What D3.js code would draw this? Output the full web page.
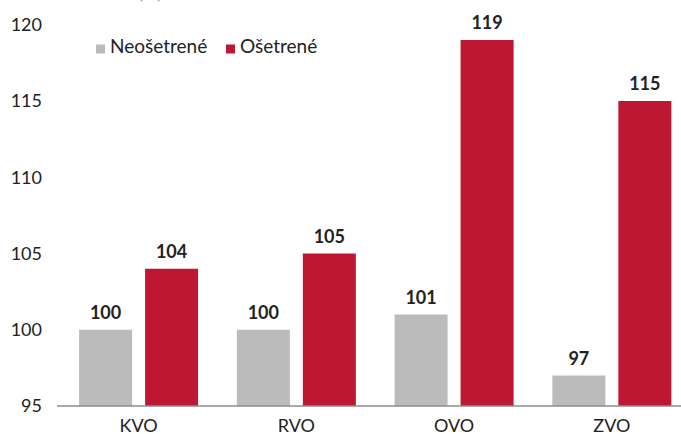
<!DOCTYPE html>
<html>
<head>
<meta charset="utf-8">
<script src="https://cdn.jsdelivr.net/npm/d3@7"></script>
<style>
  body { margin: 0; background: #fff; }
  text { font-family: Lato, "Open Sans", sans-serif; fill: #222; }
</style>
</head>
<body>
<svg></svg>
<script>
const width = 681;
const height = 434;

// data
const categories = ["KVO", "RVO", "OVO", "ZVO"];
const seriesNames = ["Neošetrené", "Ošetrené"];
const untreated = [100, 100, 101, 97];
const treated = [104, 105, 119, 115];
const yTicks = [95, 100, 105, 110, 115, 120];
const colors = ["#bbbbbb", "#be1733"];

const rows = categories.map((c, i) => ({ cat: c, values: [untreated[i], treated[i]] }));

let svg = d3.select("svg")
    .attr("width", width)
    .attr("height", height)

let x0 = d3.scaleBand()
    .domain(categories)
    .range([59.7, 690.7])
let x1 = d3.scaleBand()
    .domain([0, 1])
    .range([19.4, 138.4])
    .paddingInner(13 / 66)
let y = d3.scaleLinear()
    .domain([95, 120])
    .range([406, 24.75])

// cut-off unit label at very top
svg.append("text")
    .attr("x", 150)
    .attr("y", -1)
    .style("text-anchor", "middle")
    .style("font-size", "18px")
    .style("fill", "#999")
    .text("(%)")

// y axis labels (no line)
let yAxis = svg.append("g")
    .attr("transform", "translate(42, 0)")
    .call(d3.axisLeft(y).tickValues(yTicks).tickSize(0).tickPadding(0))
yAxis.select(".domain").remove()
yAxis.selectAll("text")
    .style("font-size", "18px")
    .style("font-family", "Lato, sans-serif")
    .attr("fill", "#222")

let groups = svg.selectAll(".grp")
    .data(rows)
    .enter()
    .append("g")
    .attr("class", "grp")
    .attr("transform", d => `translate(${x0(d.cat)}, 0)`)

groups.selectAll("rect")
    .data(d => d.values.map((v, k) => ({ k, v })))
    .enter()
    .append("rect")
    .attr("x", d => x1(d.k))
    .attr("y", d => y(d.v))
    .attr("width", x1.bandwidth())
    .attr("height", d => y(95) - y(d.v))
    .attr("fill", d => colors[d.k])

groups.selectAll(".val")
    .data(d => d.values.map((v, k) => ({ k, v })))
    .enter()
    .append("text")
    .attr("class", "val")
    .attr("x", d => x1(d.k) + x1.bandwidth() / 2)
    .attr("y", d => y(d.v) - 11)
    .style("text-anchor", "middle")
    .style("font-size", "18px")
    .style("font-weight", "bold")
    .text(d => d.v)

// x axis
let xAxis = svg.append("g")
    .attr("transform", `translate(0, ${y(95)})`)
    .call(d3.axisBottom(x0).tickSize(0).tickPadding(0))
xAxis.select(".domain").remove()
xAxis.append("line")
    .attr("x1", 57)
    .attr("x2", width)
    .attr("stroke", "#8c8c8c")
    .attr("stroke-width", 1.5)
xAxis.selectAll(".tick text")
    .attr("y", 26)
    .attr("dy", 0)
    .style("font-size", "18px")
    .style("font-family", "Lato, sans-serif")
    .attr("fill", "#222")

// legend
let legend = svg.append("g")
let lx = [96, 226];
seriesNames.forEach((name, i) => {
    legend.append("rect")
        .attr("x", lx[i])
        .attr("y", 44.5)
        .attr("width", 9)
        .attr("height", 9)
        .attr("fill", colors[i])
    legend.append("text")
        .attr("x", lx[i] + 14)
        .attr("y", 52.5)
        .style("font-size", "19px")
        .text(name)
})
</script>
</body>
</html>
